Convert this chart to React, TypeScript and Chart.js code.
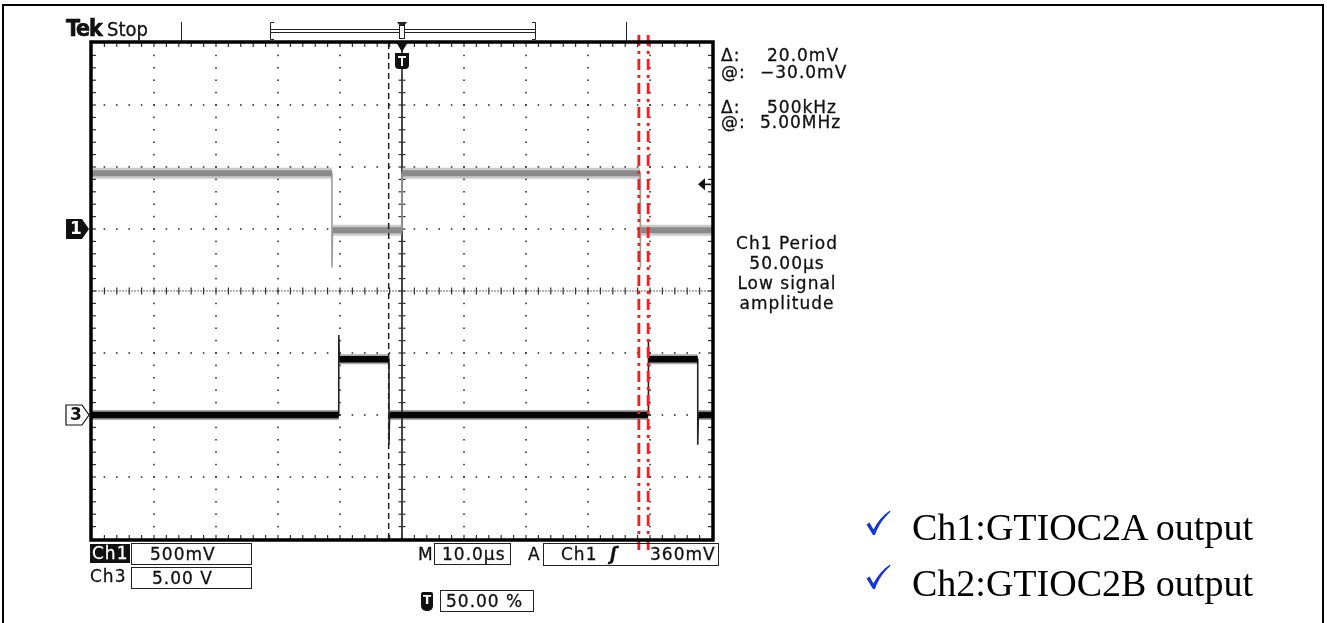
import React, { useEffect, useRef } from "react";
import { Chart, registerables } from "chart.js";

Chart.register(...registerables);

// ---- data (time in µs, 10 µs/div, trigger at 50 %) ----
const timeRangeUs = [-50, 50];
const xDivisions = 10;
const yDivisions = 8;

// Ch1: 500 mV/div, ground marker one division above centre
const ch1RangeV = [-2.5, 1.5];
const ch1TimesUs = [-50, -11.3, -11.3, -11.2, 0, 0, 38.4, 38.4, 38.5, 50];
const ch1Volts = [0.45, 0.45, -0.31, -0.01, -0.01, 0.45, 0.45, -0.31, -0.01, -0.01];

// Ch3: 5.00 V/div, ground marker two divisions below centre
const ch3RangeV = [-10, 30];
const ch3TimesUs = [-50, -10.2, -10.2, -10.1, -2.1, -2.1, -2.0, 39.7, 39.7, 39.8, 47.7, 47.7, 47.8, 50];
const ch3Volts = [0, 0, 6.45, 4.5, 4.5, -2.4, 0, 0, 6.0, 4.5, 4.5, -2.4, 0, 0];

// cursor, trigger and annotation markers
const cursorTimesUs = [-2.15];
const redMarkerTimesUs = [38.2, 39.7];
const redMarkerSpanDiv = [4.13, -4.18];
const triggerPositionUs = [0];
const triggerLevelV = [0.36];

type Pt = { x: number; y: number | null };

function plateaus(ts: number[], vs: number[]): Pt[] {
  const out: Pt[] = [];
  for (let i = 0; i < ts.length - 1; i++) {
    if (vs[i] === vs[i + 1] && ts[i + 1] > ts[i]) {
      out.push({ x: ts[i], y: vs[i] }, { x: ts[i + 1], y: vs[i + 1] }, { x: ts[i + 1], y: null });
    }
  }
  return out;
}
function full(ts: number[], vs: number[]): Pt[] {
  return ts.map((t, i) => ({ x: t, y: vs[i] }));
}

const scopePlugin = {
  id: "scope",
  beforeDatasetsDraw(chart: any) {
    const { ctx, chartArea: a } = chart;
    const dx = (a.right - a.left) / xDivisions;
    const dy = (a.bottom - a.top) / yDivisions;
    ctx.save();
    ctx.fillStyle = "#333";
    const dot = (x: number, y: number, w = 1.6, h = 1.6) => ctx.fillRect(x - w / 2, y - h / 2, w, h);
    for (let i = 1; i < xDivisions; i++) {
      if (i === xDivisions / 2) continue;
      const x = a.left + i * dx;
      for (let k = 1; k < yDivisions * 5; k++) dot(x, a.top + (k * dy) / 5);
    }
    for (let j = 1; j < yDivisions; j++) {
      if (j === yDivisions / 2) continue;
      const y = a.top + j * dy;
      for (let k = 1; k < xDivisions * 5; k++) dot(a.left + (k * dx) / 5, y);
    }
    const cx = (a.left + a.right) / 2;
    const cy = (a.top + a.bottom) / 2;
    for (let x = a.left + 1; x <= a.right; x += 3) dot(x, cy, 1.2, 1.2);
    for (let k = 1; k < xDivisions * 5; k++) dot(a.left + (k * dx) / 5, cy, 1.2, 7);
    ctx.fillRect(cx - 0.9, a.top, 1.8, a.bottom - a.top);
    for (let k = 1; k < yDivisions * 5; k++) dot(cx, a.top + (k * dy) / 5, 7, 1.2);
    // border ticks
    for (let k = 1; k < xDivisions * 5; k++) {
      const x = a.left + (k * dx) / 5;
      ctx.fillRect(x - 0.6, a.top, 1.2, 4);
      ctx.fillRect(x - 0.6, a.bottom - 4, 1.2, 4);
    }
    for (let k = 1; k < yDivisions * 5; k++) {
      const y = a.top + (k * dy) / 5;
      ctx.fillRect(a.left, y - 0.6, 4, 1.2);
      ctx.fillRect(a.right - 4, y - 0.6, 4, 1.2);
    }
    ctx.restore();
  },
  afterDatasetsDraw(chart: any) {
    const { ctx, chartArea: a, scales } = chart;
    ctx.save();
    // frame
    ctx.strokeStyle = "#000";
    ctx.lineWidth = 3.5;
    ctx.strokeRect(a.left - 1, a.top - 1, a.right - a.left + 2, a.bottom - a.top + 2);

    // channel ground markers
    const y1 = scales.y1.getPixelForValue(0);
    const y3 = scales.y3.getPixelForValue(0);
    const marker = (y: number, filled: boolean, label: string) => {
      const l = a.left - 26, r = a.left - 3;
      ctx.beginPath();
      ctx.moveTo(l, y - 10);
      ctx.lineTo(r - 7, y - 10);
      ctx.lineTo(r, y);
      ctx.lineTo(r - 7, y + 10);
      ctx.lineTo(l, y + 10);
      ctx.closePath();
      if (filled) {
        ctx.fillStyle = "#111";
        ctx.fill();
      } else {
        ctx.fillStyle = "#fff";
        ctx.fill();
        ctx.lineWidth = 1.2;
        ctx.strokeStyle = "#111";
        ctx.stroke();
      }
      ctx.fillStyle = filled ? "#fff" : "#111";
      ctx.font = "bold 17px 'DejaVu Sans'";
      ctx.textAlign = "center";
      ctx.textBaseline = "middle";
      ctx.fillText(label, l + 10, y + 1);
    };
    marker(y1, true, "1");
    marker(y3, false, "3");

    // trigger position marker
    const tx = scales.x.getPixelForValue(triggerPositionUs[0]);
    ctx.fillStyle = "#111";
    ctx.beginPath();
    ctx.moveTo(tx - 6, a.top - 1);
    ctx.lineTo(tx + 6, a.top - 1);
    ctx.lineTo(tx, a.top + 9);
    ctx.closePath();
    ctx.fill();
    ctx.beginPath();
    ctx.moveTo(tx - 7, a.top + 10);
    ctx.lineTo(tx + 7, a.top + 10);
    ctx.lineTo(tx + 7, a.top + 22);
    ctx.quadraticCurveTo(tx + 7, a.top + 26, tx + 3, a.top + 26);
    ctx.lineTo(tx - 3, a.top + 26);
    ctx.quadraticCurveTo(tx - 7, a.top + 26, tx - 7, a.top + 22);
    ctx.closePath();
    ctx.fill();
    ctx.fillStyle = "#fff";
    ctx.fillRect(tx - 4, a.top + 13, 8, 2);
    ctx.fillRect(tx - 1, a.top + 13, 2, 10);

    // trigger level arrow
    const ty = scales.y1.getPixelForValue(triggerLevelV[0]);
    ctx.fillStyle = "#111";
    ctx.beginPath();
    ctx.moveTo(a.right - 14, ty);
    ctx.lineTo(a.right - 7, ty - 6);
    ctx.lineTo(a.right - 7, ty + 6);
    ctx.closePath();
    ctx.fill();
    ctx.fillRect(a.right - 8, ty - 0.8, 7, 1.6);

    // record bar
    ctx.strokeStyle = "#222";
    ctx.lineWidth = 1;
    const barTop = a.top - 21;
    ctx.beginPath();
    ctx.moveTo(181.5, barTop);
    ctx.lineTo(181.5, a.top - 2);
    ctx.moveTo(626.5, barTop);
    ctx.lineTo(626.5, a.top - 2);
    ctx.moveTo(274, barTop + 0.5);
    ctx.lineTo(270.5, barTop + 0.5);
    ctx.lineTo(270.5, a.top - 3.5);
    ctx.lineTo(274, a.top - 3.5);
    ctx.moveTo(532, barTop + 0.5);
    ctx.lineTo(535.5, barTop + 0.5);
    ctx.lineTo(535.5, a.top - 3.5);
    ctx.lineTo(532, a.top - 3.5);
    ctx.moveTo(271, barTop + 7.5);
    ctx.lineTo(535, barTop + 7.5);
    ctx.moveTo(271, barTop + 10.5);
    ctx.lineTo(535, barTop + 10.5);
    ctx.stroke();
    ctx.fillStyle = "#fff";
    ctx.fillRect(tx - 3, barTop + 3, 6, 14);
    ctx.strokeRect(tx - 2.5, barTop + 3.5, 5, 13);
    ctx.fillStyle = "#222";
    ctx.beginPath();
    ctx.moveTo(tx - 5, barTop);
    ctx.lineTo(tx + 5, barTop);
    ctx.lineTo(tx + 2, barTop + 4);
    ctx.lineTo(tx - 2, barTop + 4);
    ctx.closePath();
    ctx.fill();
    ctx.restore();
  },
};

const tek: React.CSSProperties = {
  position: "absolute",
  fontFamily: "'DejaVu Sans', sans-serif",
  fontSize: 17,
  lineHeight: "17px",
  letterSpacing: "1px",
  color: "#111",
  whiteSpace: "pre",
  WebkitTextStroke: "0.3px #111",
};
const box: React.CSSProperties = {
  position: "absolute",
  boxSizing: "border-box",
  border: "1px solid #222",
  fontFamily: "'DejaVu Sans', sans-serif",
  fontSize: 17,
  lineHeight: "20px",
  letterSpacing: "1px",
  color: "#111",
  whiteSpace: "pre",
  WebkitTextStroke: "0.3px #111",
};
const serif: React.CSSProperties = {
  position: "absolute",
  fontFamily: "'Liberation Serif', 'Times New Roman', serif",
  fontSize: 38,
  lineHeight: "38px",
  color: "#000",
  whiteSpace: "pre",
};

function Check({ left, top }: { left: number; top: number }) {
  return (
    <svg style={{ position: "absolute", left, top }} width={25} height={26} viewBox="0 0 25 26">
      <path d="M0.5,14.5 L3.5,12.5 L7.5,19.5 C11.5,11.5 17,5 24,0.5 L24.5,1.8 C18,7.5 12.5,15 9,25 L7,25 Z" fill="#1533e0" />
    </svg>
  );
}

export default function App() {
  const ref = useRef<HTMLCanvasElement>(null);
  useEffect(() => {
    if (!ref.current) return;
    const common = { pointRadius: 0, fill: false, tension: 0, spanGaps: false };
    const chart = new Chart(ref.current, {
      type: "line",
      data: {
        datasets: [
          ...redMarkerTimesUs.map((t) => ({
            ...common,
            label: "marker",
            data: redMarkerSpanDiv.map((d) => ({ x: t, y: d })),
            yAxisID: "yd",
            borderColor: "#ff1a1a",
            borderWidth: 2.8,
            borderDash: [11, 5, 3, 5],
            clip: false as any,
            order: 0,
          })),
          ...cursorTimesUs.map((t) => ({
            ...common,
            label: "cursor",
            data: [{ x: t, y: -yDivisions / 2 }, { x: t, y: yDivisions / 2 }],
            yAxisID: "yd",
            borderColor: "#222",
            borderWidth: 1.5,
            borderDash: [6, 4],
            order: 1,
          })),
          { ...common, label: "Ch3", data: plateaus(ch3TimesUs, ch3Volts), yAxisID: "y3", borderColor: "#050505", borderWidth: 6.5, order: 2 },
          { ...common, label: "Ch3 edges", data: full(ch3TimesUs, ch3Volts), yAxisID: "y3", borderColor: "#222", borderWidth: 1.6, order: 3 },
          { ...common, label: "Ch3 noise", data: plateaus(ch3TimesUs, ch3Volts), yAxisID: "y3", borderColor: "rgba(60,60,60,0.45)", borderWidth: 10, order: 4 },
          { ...common, label: "Ch1", data: plateaus(ch1TimesUs, ch1Volts), yAxisID: "y1", borderColor: "#8a8a8a", borderWidth: 6, order: 5 },
          { ...common, label: "Ch1 edges", data: full(ch1TimesUs, ch1Volts), yAxisID: "y1", borderColor: "#9c9c9c", borderWidth: 1.6, order: 6 },
          { ...common, label: "Ch1 noise", data: plateaus(ch1TimesUs, ch1Volts), yAxisID: "y1", borderColor: "rgba(150,150,150,0.5)", borderWidth: 11, order: 7 },
        ] as any,
      },
      options: {
        responsive: false,
        animation: false,
        events: [],
        layout: { padding: { left: 92, top: 43, right: 615, bottom: 84 } },
        plugins: { legend: { display: false }, tooltip: { enabled: false } },
        scales: {
          x: { type: "linear", min: timeRangeUs[0], max: timeRangeUs[1], display: false },
          y1: { type: "linear", min: ch1RangeV[0], max: ch1RangeV[1], display: false },
          y3: { type: "linear", min: ch3RangeV[0], max: ch3RangeV[1], display: false },
          yd: { type: "linear", min: -yDivisions / 2, max: yDivisions / 2, display: false },
        },
      },
      plugins: [scopePlugin],
    });
    return () => chart.destroy();
  }, []);

  return (
    <div style={{ position: "fixed", left: 0, top: 0, width: 1327, height: 623, background: "#fff", overflow: "hidden" }}>
      <div style={{ position: "absolute", left: 2, top: 4, width: 1322, height: 700, border: "2px solid #000", boxSizing: "border-box" }} />
      <canvas ref={ref} width={1327} height={623} style={{ position: "absolute", left: 0, top: 0, width: 1327, height: 623 }} />

      <div style={{ ...tek, left: 66, top: 17, fontSize: 23, lineHeight: "23px", letterSpacing: "-1px", fontWeight: 900, fontStretch: "condensed", WebkitTextStroke: "0.6px #111" }}>Tek</div>
      <div style={{ ...tek, left: 107, top: 19, fontSize: 20, lineHeight: "20px", letterSpacing: "0px", fontStretch: "condensed" }}>Stop</div>

      <div style={{ ...tek, left: 721, top: 47 }}>Δ:</div>
      <div style={{ ...tek, left: 767, top: 47 }}>20.0mV</div>
      <div style={{ ...tek, left: 721, top: 64 }}>@:</div>
      <div style={{ ...tek, left: 760, top: 64 }}>−30.0mV</div>
      <div style={{ ...tek, left: 721, top: 99 }}>Δ:</div>
      <div style={{ ...tek, left: 767, top: 99 }}>500kHz</div>
      <div style={{ ...tek, left: 721, top: 114 }}>@:</div>
      <div style={{ ...tek, left: 760, top: 114 }}>5.00MHz</div>

      <div style={{ ...tek, left: 727, top: 233, width: 120, textAlign: "center", lineHeight: "20px" }}>
        {"Ch1 Period\n50.00µs\nLow signal\namplitude"}
      </div>

      <div style={{ ...box, left: 90, top: 544, width: 40, height: 19, background: "#111", color: "#fff", border: "none", lineHeight: "19px", paddingLeft: 2, WebkitTextStroke: "0.3px #fff" }}>Ch1</div>
      <div style={{ ...box, left: 131, top: 543, width: 121, height: 22, paddingLeft: 18 }}>500mV</div>
      <div style={{ ...tek, left: 90, top: 566, lineHeight: "20px" }}>Ch3</div>
      <div style={{ ...box, left: 131, top: 567, width: 121, height: 22, paddingLeft: 20 }}>5.00 V</div>

      <div style={{ ...tek, left: 418, top: 544, lineHeight: "20px" }}>M</div>
      <div style={{ ...box, left: 434, top: 543, width: 77, height: 22, paddingLeft: 7 }}>10.0µs</div>
      <div style={{ ...tek, left: 528, top: 544, lineHeight: "20px" }}>A</div>
      <div style={{ ...box, left: 543, top: 543, width: 176, height: 23 }} />
      <div style={{ ...tek, left: 561, top: 544, lineHeight: "20px" }}>Ch1</div>
      <div style={{ ...tek, left: 610, top: 544, lineHeight: "20px", fontWeight: 700, fontStyle: "italic" }}>ʃ</div>
      <div style={{ ...tek, left: 650, top: 544, lineHeight: "20px" }}>360mV</div>

      <div style={{ position: "absolute", left: 421, top: 592, width: 12, height: 19, background: "#111", borderRadius: "2px 2px 5px 5px", color: "#fff", fontFamily: "'DejaVu Sans', sans-serif", fontWeight: 700, fontSize: 12, lineHeight: "17px", textAlign: "center" }}>T</div>
      <div style={{ ...box, left: 440, top: 590, width: 94, height: 22, paddingLeft: 5 }}>50.00 %</div>

      <Check left={866} top={510} />
      <div style={{ ...serif, left: 912, top: 508 }}>Ch1:GTIOC2A output</div>
      <Check left={866} top={564} />
      <div style={{ ...serif, left: 912, top: 564 }}>Ch2:GTIOC2B output</div>
    </div>
  );
}
